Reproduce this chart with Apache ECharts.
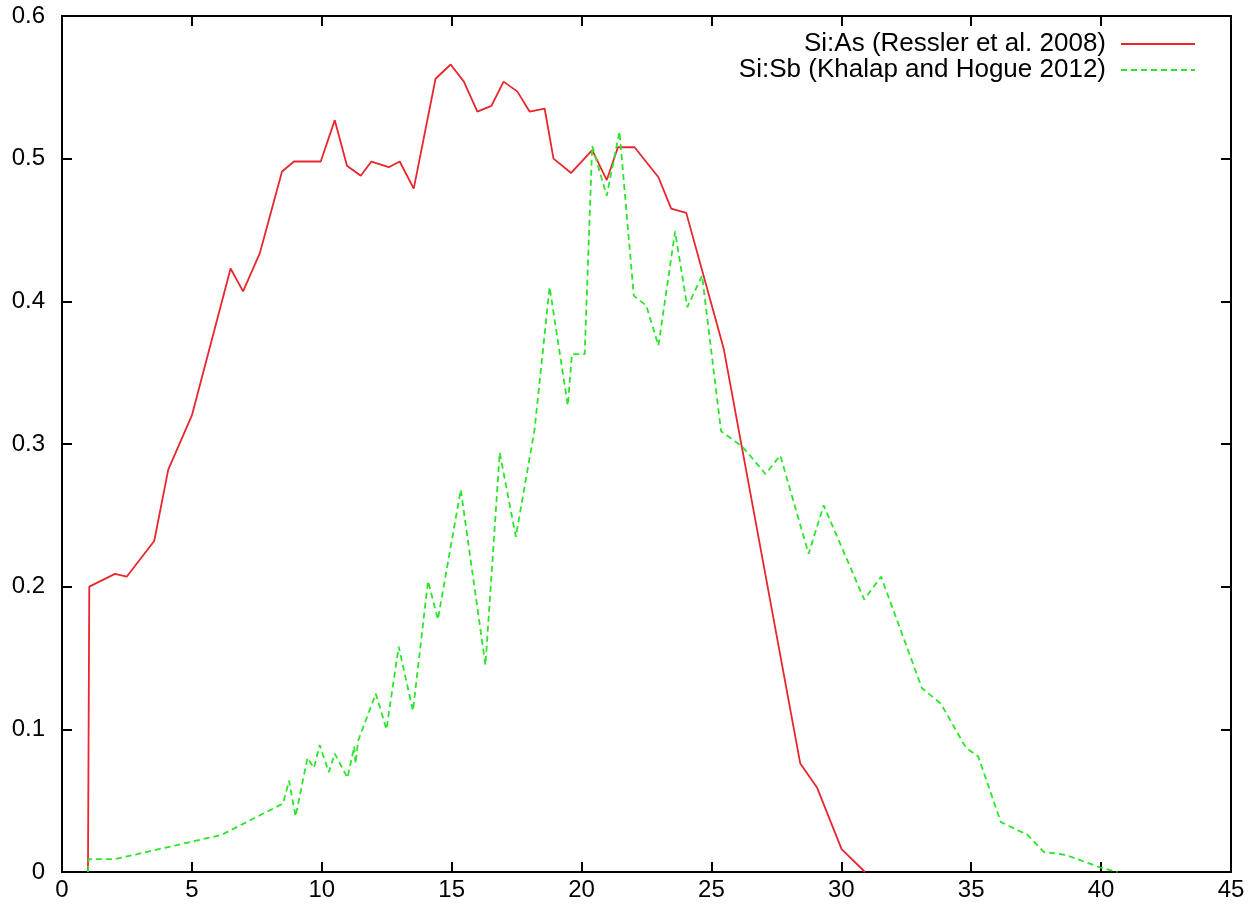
<!DOCTYPE html>
<html>
  <head>
    <title></title>
    <meta charset="UTF-8" />
    <script src="https://cdn.jsdelivr.net/npm/echarts@6/dist/echarts.min.js"></script>
    <style>
      html, body { margin: 0; padding: 0; background: #fff; }
    </style>
  </head>
  <body>
    <div id="main"></div>
    <script>
      const width = 1253;
      const height = 911;
      const main = document.getElementById('main');
      main.style.width = `${width}px`;
      main.style.height = `${height}px`;

      // data: [x, y]
      const seriesNames = ['Si:As (Ressler et al. 2008)', 'Si:Sb (Khalap and Hogue 2012)'];
      const siAs = [
        [1.0, 0], [1.05, 0.2], [2.04, 0.209], [2.49, 0.207], [3.55, 0.232], [4.09, 0.282],
        [5.0, 0.32], [6.49, 0.423], [6.97, 0.407], [7.62, 0.434], [8.47, 0.491], [8.93, 0.498],
        [9.96, 0.498], [10.5, 0.527], [10.97, 0.495], [11.5, 0.488], [11.91, 0.498], [12.58, 0.494],
        [13.0, 0.498], [13.54, 0.479], [14.38, 0.556], [14.96, 0.566], [15.47, 0.554], [15.99, 0.533],
        [16.53, 0.537], [17.0, 0.554], [17.53, 0.547], [18.0, 0.533], [18.58, 0.535], [18.92, 0.5],
        [19.6, 0.49], [20.41, 0.506], [20.97, 0.485], [21.4, 0.508], [22.04, 0.508], [22.96, 0.487],
        [23.45, 0.465], [24.03, 0.462], [25.47, 0.367], [28.42, 0.076], [29.07, 0.059], [30.01, 0.016],
        [30.91, 0]
      ];
      const siSb = [
        [1.0, 0], [1.03, 0.009], [2.04, 0.009], [6.14, 0.026], [8.51, 0.048], [8.74, 0.064],
        [8.99, 0.039], [9.45, 0.08], [9.7, 0.073], [9.92, 0.089], [10.27, 0.07], [10.5, 0.083],
        [10.99, 0.066], [11.25, 0.088], [11.3, 0.076], [11.4, 0.092], [12.08, 0.125], [12.49, 0.1],
        [12.96, 0.158], [13.51, 0.113], [14.09, 0.204], [14.47, 0.177], [15.35, 0.268], [16.3, 0.145],
        [16.85, 0.294], [17.47, 0.235], [18.19, 0.31], [18.77, 0.41], [19.47, 0.327], [19.63, 0.363],
        [20.12, 0.363], [20.41, 0.509], [20.97, 0.474], [21.46, 0.519], [22.01, 0.404], [22.49, 0.397],
        [22.96, 0.369], [23.6, 0.449], [24.07, 0.396], [24.64, 0.418], [25.37, 0.309], [26.2, 0.298],
        [27.08, 0.279], [27.65, 0.292], [28.74, 0.223], [29.32, 0.257], [30.88, 0.191], [31.53, 0.207],
        [33.1, 0.129], [33.83, 0.118], [34.8, 0.087], [35.27, 0.081], [36.14, 0.035], [37.17, 0.026],
        [37.8, 0.014], [38.64, 0.012], [39.99, 0.003], [40.63, 0]
      ];

      const font = 'Liberation Sans, Arial, sans-serif';
      const frameAxis = {
        axisLine: { show: true, onZero: false, lineStyle: { color: '#000', width: 2 } },
        axisTick: { show: true, inside: true, length: 10, lineStyle: { color: '#000', width: 2 } },
        splitLine: { show: false },
      };

      const myChart = echarts.init(main);
      const option = {
        backgroundColor: '#fff',
        animation: false,
        grid: { left: 62, right: 22, top: 16, bottom: 39 },
        legend: {
          orient: 'vertical',
          right: 52,
          top: 26,
          align: 'right',
          itemWidth: 74,
          itemHeight: 14,
          itemGap: 0,
          itemStyle: { opacity: 0 },
          textStyle: {
            fontFamily: font, fontSize: 26, lineHeight: 21, color: '#000',
            padding: [0, 10, 0, 0],
          },
          data: seriesNames,
        },
        xAxis: [
          {
            type: 'value', min: 0, max: 45, interval: 5, position: 'bottom',
            ...frameAxis,
            axisLabel: { fontFamily: font, fontSize: 24, color: '#000', margin: 6 },
          },
          {
            type: 'value', min: 0, max: 45, interval: 5, position: 'top',
            ...frameAxis,
            axisLabel: { show: false },
          },
        ],
        yAxis: [
          {
            type: 'value', min: 0, max: 0.6, interval: 0.1, position: 'left',
            ...frameAxis,
            axisLabel: { fontFamily: font, fontSize: 24, color: '#000', margin: 17 },
          },
          {
            type: 'value', min: 0, max: 0.6, interval: 0.1, position: 'right',
            ...frameAxis,
            axisLabel: { show: false },
          },
        ],
        series: [
          {
            name: seriesNames[0],
            type: 'line',
            data: siAs,
            showSymbol: false,
            symbol: 'none',
            color: '#e8262d',
            lineStyle: { color: '#e8262d', width: 1.8 },
          },
          {
            name: seriesNames[1],
            type: 'line',
            data: siSb,
            showSymbol: false,
            symbol: 'none',
            color: '#2ae52a',
            lineStyle: { color: '#2ae52a', width: 1.8, type: [6, 4] },
          },
        ],
      };
      myChart.setOption(option);
    </script>
  </body>
</html>
